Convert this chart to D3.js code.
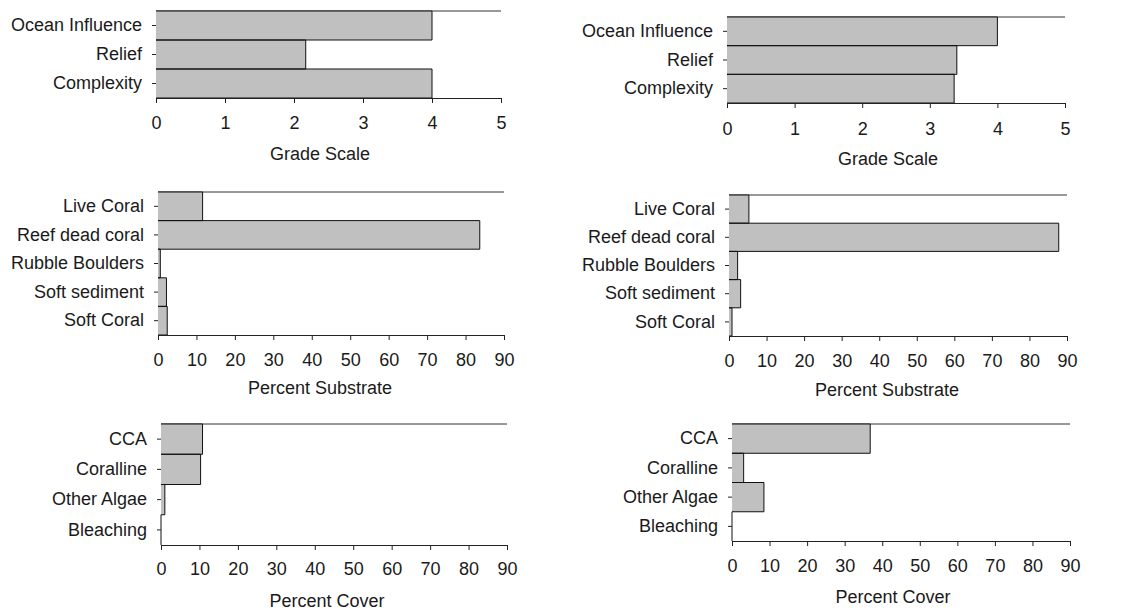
<!DOCTYPE html>
<html>
<head>
<meta charset="utf-8">
<script src="https://cdn.jsdelivr.net/npm/d3@7"></script>
<style>
  body { margin: 0; background: #fff; }
  svg text { font-family: "Liberation Sans", Arial, sans-serif; fill: #1a1a1a; }
</style>
</head>
<body>
<svg id="chart" width="1123" height="610"></svg>
<script>
// reef survey values
const gradeCats = ["Ocean Influence", "Relief", "Complexity"];
const gradeLeft = [4, 2.17, 4];
const gradeRight = [4, 3.4, 3.36];
const gradeTicks = [0, 1, 2, 3, 4, 5];

const substrateCats = ["Live Coral", "Reef dead coral", "Rubble Boulders", "Soft sediment", "Soft Coral"];
const substrateLeft = [11.6, 83.7, 0.6, 2.2, 2.4];
const substrateRight = [5.3, 87.8, 2.3, 3.1, 0.8];

const coverCats = ["CCA", "Coralline", "Other Algae", "Bleaching"];
const coverLeft = [10.8, 10.3, 1.0, 0];
const coverRight = [36.8, 3.1, 8.5, 0];

const pctTicks = [0, 10, 20, 30, 40, 50, 60, 70, 80, 90];

// panel frames (pixels)
const panels = [
    { cats: gradeCats, vals: gradeLeft, ticks: gradeTicks, max: 5, title: "Grade Scale",
      x0: 156, x1: 501, y0: 11, y1: 98, tickY: 122, titleX: 320, titleY: 154 },
    { cats: gradeCats, vals: gradeRight, ticks: gradeTicks, max: 5, title: "Grade Scale",
      x0: 727, x1: 1065, y0: 17, y1: 103, tickY: 128, titleX: 888, titleY: 159 },
    { cats: substrateCats, vals: substrateLeft, ticks: pctTicks, max: 90, title: "Percent Substrate",
      x0: 158, x1: 504, y0: 192, y1: 335, tickY: 359, titleX: 320, titleY: 388 },
    { cats: substrateCats, vals: substrateRight, ticks: pctTicks, max: 90, title: "Percent Substrate",
      x0: 729, x1: 1067, y0: 195, y1: 336, tickY: 360, titleX: 887, titleY: 390 },
    { cats: coverCats, vals: coverLeft, ticks: pctTicks, max: 90, title: "Percent Cover",
      x0: 161, x1: 507, y0: 424, y1: 545, tickY: 568, titleX: 327, titleY: 601 },
    { cats: coverCats, vals: coverRight, ticks: pctTicks, max: 90, title: "Percent Cover",
      x0: 732, x1: 1070, y0: 424, y1: 541, tickY: 565, titleX: 893, titleY: 597 }
];

const svg = d3.select("#chart");

panels.forEach(p => {
    const x = d3.scaleLinear().domain([0, p.max]).range([p.x0, p.x1]);
    const y = d3.scaleBand().domain(p.cats).range([p.y0, p.y1]).padding(0);
    const g = svg.append("g");
    const rows = p.cats.map((c, j) => ({ cat: c, val: p.vals[j] }));

    // top frame line, bars sit over it
    g.append("line")
        .attr("x1", x(0)).attr("x2", x(p.max))
        .attr("y1", p.y0).attr("y2", p.y0)
        .attr("stroke", "#333").attr("stroke-width", 1);

    g.selectAll("rect.bar")
        .data(rows)
        .join("rect")
        .attr("class", "bar")
        .attr("x", x(0))
        .attr("y", d => y(d.cat))
        .attr("width", d => x(d.val) - x(0))
        .attr("height", y.bandwidth())
        .attr("fill", "#c0c0c0");

    // outline on top, right and bottom only (no left edge)
    g.selectAll("path.edge")
        .data(rows)
        .join("path")
        .attr("class", "edge")
        .attr("d", d => {
            const t = y(d.cat), b = t + y.bandwidth(), r = x(d.val);
            return `M${x(0)},${t}H${r}V${b}H${x(0)}`;
        })
        .attr("fill", "none")
        .attr("stroke", "#111")
        .attr("stroke-width", 1);

    // x axis
    const xAxis = g.append("g")
        .attr("transform", `translate(0,${p.y1})`)
        .call(d3.axisBottom(x).tickValues(p.ticks).tickFormat(d3.format("d"))
            .tickSize(5).tickSizeOuter(0)
            .tickPadding(p.tickY - p.y1 - 11));
    xAxis.select(".domain").attr("stroke", "#222");
    xAxis.selectAll(".tick line").attr("stroke", "#222");
    xAxis.selectAll("text").attr("font-size", 18).attr("fill", "#1a1a1a");

    // y axis: labels and short ticks, no line
    const yAxis = g.append("g")
        .attr("transform", `translate(${p.x0},0)`)
        .call(d3.axisLeft(y).tickSize(4).tickPadding(10));
    yAxis.select(".domain").remove();
    yAxis.selectAll(".tick line").attr("stroke", "#222");
    yAxis.selectAll("text").attr("font-size", 18).attr("fill", "#1a1a1a");

    g.append("text")
        .attr("x", p.titleX)
        .attr("y", p.titleY)
        .attr("dy", "0.35em")
        .attr("text-anchor", "middle")
        .attr("font-size", 18)
        .text(p.title);
});
</script>
</body>
</html>
